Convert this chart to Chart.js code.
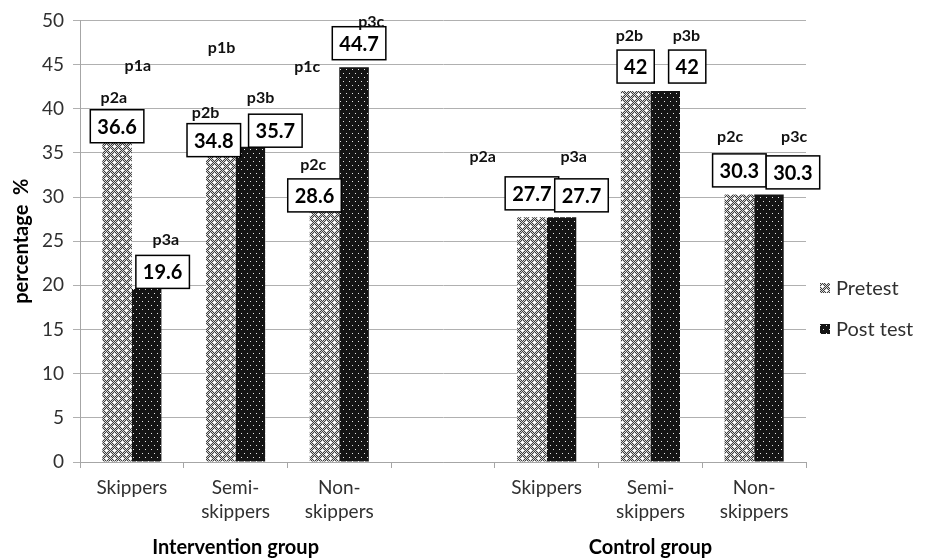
<!DOCTYPE html>
<html>
<head>
<meta charset="utf-8">
<script src="https://cdn.jsdelivr.net/npm/chart.js@4"></script>
<style>
  html, body { margin: 0; padding: 0; background: #fff; }
  #wrap { width: 930px; height: 560px; }
</style>
</head>
<body>
<div id="wrap"><canvas id="skipChart" width="930" height="560"></canvas></div>
<script>
// data
var categories = ['Skippers', ['Semi-', 'skippers'], ['Non-', 'skippers'], '',
                  'Skippers', ['Semi-', 'skippers'], ['Non-', 'skippers']];
var pretest  = [36.6, 34.8, 28.6, null, 27.7, 42, 30.3];
var posttest = [19.6, 35.7, 44.7, null, 27.7, 42, 30.3];
var seriesNames = ['Pretest', 'Post test'];
var groupTitles = ['Intervention group', 'Control group'];
var groupCenters = [1, 5];   // category index under each group title
var pNotes = ['p1a', 'p2a', 'p3a', 'p1b', 'p2b', 'p3b', 'p1c', 'p2c', 'p3c',
              'p2a', 'p3a', 'p2b', 'p3b', 'p2c', 'p3c'];

// layout: where the boxed values and p-notes sit (category, px shift, y value)
var pNotePos = [[0, 6, 44.9], [0, -18, 41.2], [0, 34, 25.1],
                [1, -14, 46.9], [1, -30, 39.5], [1, 25, 41.2],
                [2, -32, 44.7], [2, -26, 33.6], [2, 32, 49.8],
                [4, -64, 34.5], [4, 27, 34.5],
                [5, -21, 48.3], [5, 36, 48.3],
                [6, -24, 36.8], [6, 40, 36.8]];
var boxShift = [
  [[0, -12.5], [-7, -14.5], [-10, -14], null, [0, -24], [0, -24.5], [0, -24]],
  [[16, -17], [25, -16], [5, -24], null, [20, -22], [22, -24.5], [24, -22]]
];

var FONT = 'Lato, "Open Sans", sans-serif';

function makePattern(kind) {
    var c = document.createElement('canvas');
    var g = c.getContext('2d');
    if (kind === 'pre') {
        c.width = 8; c.height = 8;
        for (var x = 0; x < 8; x++) {
            for (var y = 0; y < 8; y++) {
                g.fillStyle = (x + y) % 2 ? '#3c3c3c' : '#d6d6d6';
                g.fillRect(x, y, 1, 1);
            }
        }
        g.fillStyle = '#ffffff';
        [[2, 2], [6, 6]].forEach(function (p) {
            g.fillRect(p[0] - 1, p[1], 3, 1);
            g.fillRect(p[0], p[1] - 1, 1, 3);
        });
    } else {
        c.width = 6; c.height = 8;
        g.fillStyle = '#141414';
        g.fillRect(0, 0, 6, 8);
        g.fillStyle = '#e8e8e8';
        g.fillRect(1, 1, 1, 1);
        g.fillRect(4, 5, 1, 1);
    }
    return g.createPattern(c, 'repeat');
}

var prePattern = makePattern('pre');
var postPattern = makePattern('post');

var valueBoxes = {
    id: 'valueBoxes',
    afterDatasetsDraw: function (chart) {
        var ctx = chart.ctx;
        ctx.save();
        ctx.font = 'bold 20px ' + FONT;
        ctx.textAlign = 'center';
        ctx.textBaseline = 'middle';
        chart.data.datasets.forEach(function (ds, i) {
            chart.getDatasetMeta(i).data.forEach(function (bar, j) {
                var v = ds.data[j];
                if (v === null) return;
                var s = boxShift[i][j];
                var txt = String(v);
                var w = ctx.measureText(txt).width + 14;
                var h = 33;
                var cx = bar.x + s[0], cy = bar.y + s[1];
                ctx.fillStyle = '#ffffff';
                ctx.fillRect(cx - w / 2, cy - h / 2, w, h);
                ctx.lineWidth = 1.5;
                ctx.strokeStyle = '#000000';
                ctx.strokeRect(cx - w / 2, cy - h / 2, w, h);
                ctx.fillStyle = '#000000';
                ctx.fillText(txt, cx, cy + 1);
            });
        });
        ctx.restore();
    },
    afterDraw: function (chart) {
        var ctx = chart.ctx;
        var xs = chart.scales.x, ys = chart.scales.y;
        ctx.save();
        // p notes
        ctx.font = 'bold 16px ' + FONT;
        ctx.fillStyle = '#111111';
        ctx.textAlign = 'center';
        ctx.textBaseline = 'middle';
        pNotes.forEach(function (t, k) {
            var p = pNotePos[k];
            ctx.fillText(t, xs.getPixelForValue(p[0]) + p[1], ys.getPixelForValue(p[2]));
        });
        // group titles under the axis
        ctx.font = 'bold 20px ' + FONT;
        ctx.fillStyle = '#000000';
        groupTitles.forEach(function (t, k) {
            ctx.fillText(t, xs.getPixelForValue(groupCenters[k]), 548);
        });
        // legend on the right
        var pats = [prePattern, postPattern];
        var legY = [288, 329];
        ctx.font = '20px ' + FONT;
        ctx.textAlign = 'left';
        seriesNames.forEach(function (n, k) {
            ctx.fillStyle = pats[k];
            ctx.fillRect(820, legY[k] - 5, 10, 10);
            ctx.fillStyle = '#303030';
            ctx.fillText(n, 836, legY[k] + 1);
        });
        ctx.restore();
    }
};

var ctx = document.getElementById('skipChart');
var skipChart = new Chart(ctx, {
    type: 'bar',
    data: {
        labels: categories,
        datasets: [{
            label: seriesNames[0],
            data: pretest,
            backgroundColor: prePattern,
            borderWidth: 0
        }, {
            label: seriesNames[1],
            data: posttest,
            backgroundColor: postPattern,
            borderWidth: 0
        }]
    },
    options: {
        responsive: false,
        animation: false,
        categoryPercentage: 0.57,
        barPercentage: 1.0,
        layout: {
            padding: { left: 0, right: 124, top: 20, bottom: 0 }
        },
        plugins: {
            legend: { display: false },
            tooltip: { enabled: false }
        },
        scales: {
            x: {
                grid: {
                    display: true,
                    drawOnChartArea: false,
                    offset: true,
                    tickLength: 6,
                    color: '#a6a6a6'
                },
                border: { color: '#a6a6a6' },
                ticks: {
                    color: '#303030',
                    padding: 8,
                    maxRotation: 0,
                    font: { family: FONT, size: 19, lineHeight: 1.25 }
                },
                afterFit: function (s) { s.height = 98; }
            },
            y: {
                min: 0,
                max: 50,
                ticks: {
                    stepSize: 5,
                    color: '#303030',
                    padding: 9,
                    font: { family: FONT, size: 19 }
                },
                grid: { color: '#b0b0b0', tickLength: 7 },
                border: { color: '#a6a6a6' },
                title: {
                    display: true,
                    text: 'percentage  %',
                    color: '#000000',
                    padding: { top: 10, bottom: 0 },
                    font: { family: FONT, size: 20, weight: 'bold' }
                },
                afterFit: function (s) { s.width = 80; }
            }
        }
    },
    plugins: [valueBoxes]
});
</script>
</body>
</html>
